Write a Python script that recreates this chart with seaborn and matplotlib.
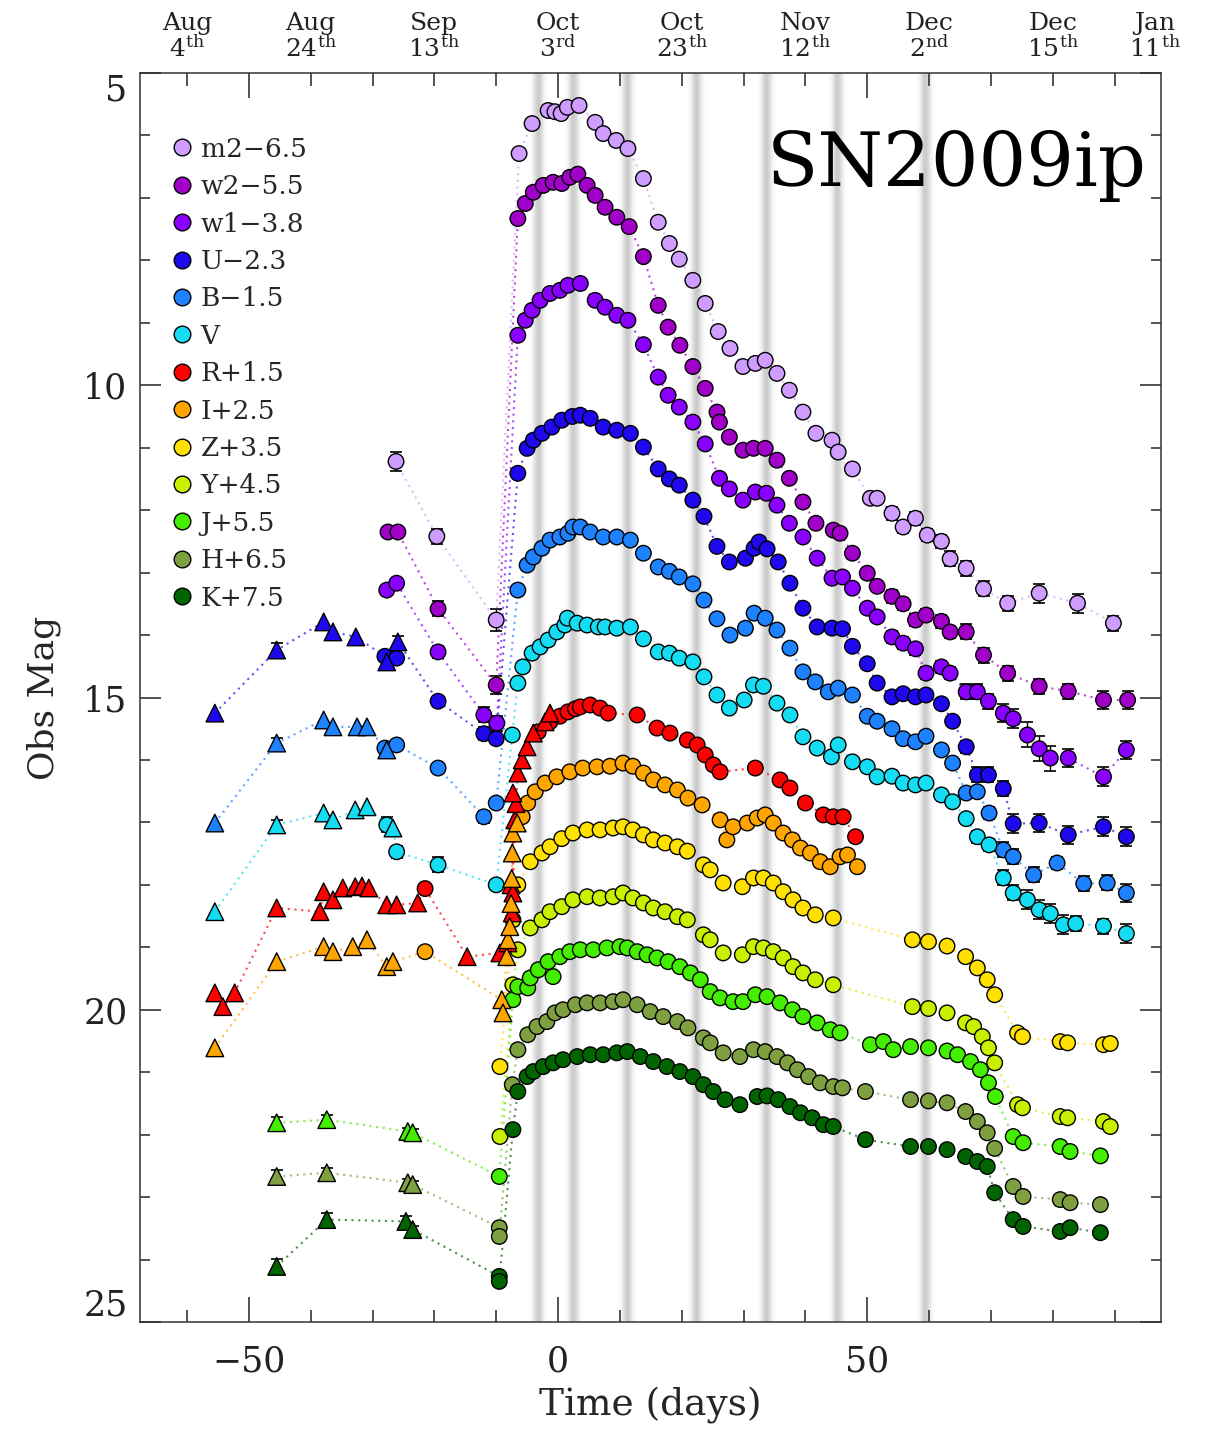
import matplotlib
matplotlib.use("Agg")
import matplotlib.pyplot as plt
from matplotlib.lines import Line2D
from matplotlib.ticker import MultipleLocator
import numpy as np
import pandas as pd
import seaborn as sns

# ------------------------------------------------------------------ data
bands = ["m2", "w2", "w1", "U", "B", "V", "R", "I", "Z", "Y", "J", "H", "K"]
labels = ["m2\u22126.5", "w2\u22125.5", "w1\u22123.8", "U\u22122.3", "B\u22121.5", "V",
          "R+1.5", "I+2.5", "Z+3.5", "Y+4.5", "J+5.5", "H+6.5", "K+7.5"]
colors = ["#CF9CFF", "#A000C8", "#8A00FF", "#1E08EE", "#1E82FF", "#14DCF2",
          "#FF0000", "#FFA500", "#FFE000", "#C8F000", "#44EE00", "#7FA040", "#006400"]

# gray vertical bands (days)
band_days = [-3.2, 2.4, 11.2, 22.3, 33.7, 45.1, 59.4]

# top date labels
top_days = [-60, -40, -20, 0, 20, 40, 60, 80, 96.5]
top_month = ["Aug", "Aug", "Sep", "Oct", "Oct", "Nov", "Dec", "Dec", "Jan"]
top_dayno = ["4", "24", "13", "3", "23", "12", "2", "15", "11"]
top_suffix = ["th", "th", "th", "rd", "th", "th", "nd", "th", "th"]

m2_day = [-26.2, -19.6, -10.0, -6.3, -4.2, -1.6, -0.5, 0.5, 1.5, 3.4,
          6.0, 7.3, 9.4, 11.3, 13.8, 16.2, 18.0, 19.6, 21.8, 23.8,
          25.9, 27.8, 29.9, 31.9, 33.5, 35.4, 37.4, 39.6, 41.7, 44.3,
          45.3, 47.6, 50.5, 51.6, 54.0, 55.8, 57.8, 59.7, 62.0, 63.4,
          66.0, 68.8, 72.7, 77.8, 84.0, 89.8]
m2_mag = [11.22, 12.42, 13.76, 6.29, 5.81, 5.60, 5.62, 5.65, 5.55, 5.52,
          5.79, 5.97, 6.08, 6.21, 6.69, 7.39, 7.73, 7.98, 8.32, 8.69,
          9.14, 9.41, 9.70, 9.65, 9.60, 9.81, 10.08, 10.43, 10.77, 10.88,
          11.07, 11.34, 11.81, 11.81, 12.05, 12.27, 12.13, 12.40, 12.50, 12.78,
          12.93, 13.26, 13.49, 13.33, 13.49, 13.81]
m2_err = [0.15, 0.12, 0.18, 0, 0, 0, 0, 0, 0, 0,
          0, 0, 0, 0, 0, 0, 0, 0, 0, 0,
          0, 0, 0, 0, 0, 0, 0, 0, 0, 0,
          0, 0, 0, 0, 0.10, 0.10, 0.10, 0.10, 0.10, 0.12,
          0.12, 0.12, 0.12, 0.15, 0.15, 0.12]

w2_day = [-27.5, -25.9, -19.4, -10.0, -6.5, -5.3, -4.0, -2.4, -0.8, 0.6,
          1.9, 3.2, 4.7, 6.0, 7.6, 9.5, 11.5, 13.8, 16.2, 17.8,
          19.7, 21.8, 23.8, 25.7, 26.1, 27.7, 29.9, 31.6, 33.5, 35.4,
          37.4, 39.6, 41.7, 44.5, 45.6, 47.6, 50.0, 51.6, 54.0, 55.8,
          57.8, 59.5, 62.0, 63.4, 66.0, 68.8, 72.7, 77.8, 82.5, 88.2,
          92.1]
w2_mag = [12.35, 12.35, 13.58, 14.80, 7.33, 7.09, 6.91, 6.80, 6.75, 6.77,
          6.67, 6.62, 6.80, 6.96, 7.15, 7.31, 7.46, 7.94, 8.72, 9.07,
          9.36, 9.70, 10.05, 10.43, 10.59, 10.83, 11.04, 11.01, 11.01, 11.20,
          11.49, 11.87, 12.21, 12.32, 12.37, 12.69, 13.01, 13.22, 13.38, 13.50,
          13.76, 13.68, 13.78, 13.95, 13.95, 14.32, 14.61, 14.82, 14.90, 15.04,
          15.04]
w2_err = [0, 0, 0.12, 0.15, 0, 0, 0, 0, 0, 0,
          0, 0, 0, 0, 0, 0, 0, 0, 0, 0,
          0, 0, 0, 0, 0, 0, 0, 0, 0, 0,
          0, 0, 0, 0, 0, 0, 0, 0, 0.10, 0.10,
          0.10, 0.10, 0.10, 0.10, 0.12, 0.12, 0.12, 0.12, 0.12, 0.15,
          0.15]

w1_day = [-27.7, -26.1, -19.4, -12.0, -9.9, -6.5, -5.3, -4.2, -2.9, -1.3,
          0.3, 1.6, 3.6, 6.0, 7.6, 9.5, 11.3, 13.8, 16.2, 17.8,
          19.6, 21.8, 23.8, 26.1, 27.7, 29.9, 31.9, 33.7, 35.4, 37.4,
          39.6, 41.9, 44.3, 46.0, 47.6, 50.0, 51.6, 54.0, 55.8, 57.8,
          59.5, 62.0, 63.4, 66.0, 67.8, 69.6, 72.0, 73.6, 75.9, 77.8,
          79.6, 82.5, 88.2, 91.9]
w1_mag = [13.28, 13.17, 14.27, 15.28, 15.41, 9.20, 8.96, 8.80, 8.64, 8.53,
          8.48, 8.40, 8.37, 8.64, 8.75, 8.88, 8.96, 9.35, 9.87, 10.16,
          10.35, 10.59, 10.94, 11.49, 11.66, 11.84, 11.71, 11.73, 11.92, 12.21,
          12.43, 12.77, 13.09, 13.07, 13.25, 13.57, 13.71, 14.03, 14.13, 14.22,
          14.61, 14.51, 14.61, 14.91, 14.91, 15.06, 15.25, 15.34, 15.60, 15.82,
          15.97, 15.97, 16.27, 15.84]
w1_err = [0, 0, 0.10, 0.12, 0.12, 0, 0, 0, 0, 0,
          0, 0, 0, 0, 0, 0, 0, 0, 0, 0,
          0, 0, 0, 0, 0, 0, 0, 0, 0, 0,
          0, 0, 0, 0, 0, 0, 0, 0.10, 0.10, 0.10,
          0.10, 0.10, 0.10, 0.12, 0.12, 0.12, 0.15, 0.15, 0.20, 0.20,
          0.20, 0.15, 0.15, 0.15]

U_tri_day = [-55.5, -45.5, -37.9, -36.4, -32.7, -27.7, -25.9]
U_tri_mag = [15.25, 14.24, 13.79, 13.95, 14.03, 14.43, 14.11]
U_tri_err = [0, 0.12, 0, 0, 0, 0, 0.10]
U_day = [-28.0, -26.1, -19.4, -12.0, -10.0, -6.5, -5.0, -4.0, -2.6, -1.0,
         0.6, 2.3, 3.6, 5.2, 7.3, 9.5, 11.7, 13.8, 16.2, 18.0,
         19.6, 21.8, 23.6, 25.7, 27.7, 30.3, 31.7, 32.5, 33.8, 35.6,
         37.5, 39.6, 41.9, 44.3, 46.0, 47.6, 50.0, 51.6, 54.0, 55.8,
         57.8, 59.5, 62.0, 63.8, 66.0, 67.8, 69.6, 72.0, 73.6, 77.8,
         82.5, 88.2, 91.9]
U_mag = [14.34, 14.37, 15.06, 15.58, 15.66, 11.41, 11.01, 10.88, 10.77, 10.67,
         10.56, 10.50, 10.48, 10.53, 10.67, 10.72, 10.77, 10.99, 11.34, 11.50,
         11.60, 11.84, 12.10, 12.58, 12.83, 12.77, 12.61, 12.51, 12.62, 12.83,
         13.17, 13.57, 13.87, 13.89, 13.90, 14.18, 14.46, 14.77, 14.99, 14.94,
         14.99, 14.96, 15.10, 15.38, 15.79, 16.24, 16.24, 16.46, 17.02, 17.01,
         17.20, 17.07, 17.23]
U_err = [0, 0, 0, 0.10, 0, 0, 0, 0, 0, 0,
         0, 0, 0, 0, 0, 0, 0, 0, 0, 0,
         0, 0, 0, 0, 0, 0, 0, 0, 0, 0,
         0, 0, 0, 0, 0, 0, 0, 0, 0, 0,
         0, 0, 0, 0, 0.10, 0.12, 0.12, 0.12, 0.15, 0.15,
         0.15, 0.15, 0.15]

B_tri_day = [-55.5, -45.5, -37.9, -36.4, -32.5, -30.9, -27.7]
B_tri_mag = [17.01, 15.73, 15.36, 15.47, 15.47, 15.47, 15.84]
B_tri_err = [0, 0.08, 0, 0, 0, 0, 0]
B_day = [-28.0, -26.1, -19.4, -12.0, -10.0, -6.5, -5.0, -4.0, -2.6, -1.3,
         0.3, 1.6, 2.4, 3.6, 5.2, 7.3, 9.5, 11.7, 13.8, 16.2,
         18.0, 19.6, 21.8, 23.6, 25.7, 27.8, 30.3, 31.7, 33.5, 35.4,
         37.5, 39.6, 41.6, 43.7, 45.3, 47.6, 50.0, 51.6, 54.0, 55.8,
         57.8, 59.5, 62.0, 63.8, 66.0, 67.8, 69.7, 72.0, 73.6, 76.9,
         80.7, 85.0, 88.8, 91.9]
B_mag = [15.81, 15.76, 16.13, 16.91, 16.69, 13.28, 12.88, 12.75, 12.61, 12.48,
         12.43, 12.37, 12.27, 12.27, 12.35, 12.43, 12.43, 12.48, 12.69, 12.91,
         12.98, 13.07, 13.18, 13.44, 13.74, 14.00, 13.89, 13.65, 13.73, 13.92,
         14.21, 14.59, 14.75, 14.91, 14.85, 14.96, 15.30, 15.38, 15.50, 15.66,
         15.71, 15.62, 15.84, 16.05, 16.53, 16.51, 16.85, 17.44, 17.55, 17.84,
         17.65, 17.98, 17.97, 18.13]
B_err = [0, 0, 0, 0.10, 0, 0, 0, 0, 0, 0,
         0, 0, 0, 0, 0, 0, 0, 0, 0, 0,
         0, 0, 0, 0, 0, 0, 0, 0, 0, 0,
         0, 0, 0, 0, 0, 0, 0, 0, 0, 0,
         0, 0, 0, 0, 0.08, 0.08, 0.10, 0.12, 0.12, 0.12,
         0.10, 0.12, 0.12, 0.15]

V_tri_day = [-55.5, -45.5, -37.9, -36.4, -32.8, -30.9, -26.7]
V_tri_mag = [18.43, 17.04, 16.85, 16.96, 16.80, 16.75, 17.09]
V_tri_err = [0, 0.08, 0, 0, 0, 0, 0]
V_day = [-27.7, -26.1, -19.4, -10.0, -7.4, -6.5, -5.7, -4.2, -2.9, -1.6,
         -0.2, 1.1, 1.5, 3.1, 4.7, 6.5, 7.6, 9.5, 11.7, 13.8,
         16.2, 18.0, 19.6, 21.8, 23.6, 25.7, 27.7, 30.1, 31.6, 33.2,
         35.4, 37.5, 39.6, 41.9, 44.2, 45.3, 47.6, 50.0, 51.6, 54.0,
         55.8, 57.8, 59.5, 62.0, 63.8, 66.0, 67.8, 69.7, 72.0, 73.6,
         75.9, 77.8, 79.6, 81.7, 83.7, 88.2, 91.9]
V_mag = [17.04, 17.47, 17.68, 18.00, 15.60, 14.77, 14.51, 14.29, 14.19, 14.08,
         13.95, 13.84, 13.73, 13.81, 13.84, 13.87, 13.87, 13.89, 13.87, 14.06,
         14.27, 14.29, 14.37, 14.43, 14.67, 14.96, 15.17, 15.04, 14.80, 14.82,
         15.09, 15.28, 15.63, 15.81, 15.95, 15.76, 16.03, 16.11, 16.27, 16.26,
         16.37, 16.40, 16.37, 16.56, 16.67, 16.94, 17.23, 17.36, 17.89, 18.13,
         18.24, 18.40, 18.46, 18.64, 18.62, 18.66, 18.78]
V_err = [0.12, 0.10, 0.12, 0, 0, 0, 0, 0, 0, 0,
         0, 0, 0, 0, 0, 0, 0, 0, 0, 0,
         0, 0, 0, 0, 0, 0, 0, 0, 0, 0,
         0, 0, 0, 0, 0, 0, 0, 0, 0, 0,
         0, 0, 0, 0, 0, 0, 0.10, 0.10, 0.12, 0.12,
         0.15, 0.15, 0.15, 0.15, 0.12, 0.12, 0.15]

R_tri_day = [-55.5, -54.2, -52.3, -45.5, -38.5, -37.9, -36.4, -34.8, -32.8, -31.7,
             -30.6, -27.7, -26.1, -22.7, -14.7, -9.4, -8.1, -7.6, -7.4, -7.3,
             -7.0, -6.8, -7.3, -6.5, -5.8, -5.0, -4.0, -2.1, -1.3]
R_tri_mag = [19.73, 19.95, 19.73, 18.37, 18.43, 18.11, 18.24, 18.05, 18.03, 18.02,
             18.05, 18.32, 18.32, 18.29, 19.15, 19.09, 18.93, 18.00, 18.45, 18.13,
             16.96, 16.70, 16.53, 16.21, 16.00, 15.79, 15.57, 15.39, 15.25]
R_day = [-21.5, -3.2, -1.3, 0.3, 1.6, 2.8, 3.6, 5.2, 6.8, 8.1,
         12.8, 16.0, 18.1, 20.9, 22.5, 23.8, 25.1, 26.2, 31.9, 35.9,
         37.5, 40.0, 42.9, 44.5, 46.1, 48.1]
R_mag = [18.06, 15.55, 15.39, 15.30, 15.23, 15.18, 15.15, 15.12, 15.17, 15.25,
         15.28, 15.49, 15.57, 15.68, 15.76, 15.92, 16.08, 16.19, 16.13, 16.32,
         16.45, 16.69, 16.88, 16.91, 16.91, 17.23]

I_tri_day = [-55.5, -45.5, -37.9, -36.4, -33.2, -30.9, -27.7, -26.7, -9.1, -8.9,
             -8.3, -8.1, -7.8, -7.6, -7.5, -7.4, -7.3, -6.6]
I_tri_mag = [20.61, 19.23, 18.99, 19.07, 18.99, 18.88, 19.31, 19.23, 19.84, 20.05,
             19.15, 18.88, 18.67, 18.30, 17.90, 17.49, 17.17, 17.01]
I_day = [-21.5, -5.8, -4.9, -3.7, -2.1, -0.2, 1.9, 4.0, 6.3, 8.4,
         10.5, 12.1, 13.8, 15.4, 17.3, 19.3, 21.0, 23.3, 26.2, 27.3,
         28.3, 30.6, 32.2, 33.5, 34.8, 36.4, 37.9, 39.2, 40.8, 42.4,
         44.0, 45.6, 46.8, 48.4]
I_mag = [19.07, 16.91, 16.69, 16.51, 16.37, 16.27, 16.19, 16.13, 16.11, 16.10,
         16.05, 16.10, 16.21, 16.32, 16.40, 16.48, 16.61, 16.72, 16.96, 17.28,
         17.07, 17.01, 16.93, 16.88, 17.01, 17.17, 17.28, 17.41, 17.49, 17.63,
         17.71, 17.55, 17.52, 17.71]

Z_day = [-9.4, -7.3, -6.5, -4.5, -2.6, -1.3, 0.6, 2.4, 4.7, 6.8,
         8.9, 10.5, 12.1, 13.8, 15.4, 17.3, 19.3, 20.9, 23.5, 24.6,
         26.7, 29.8, 31.6, 33.2, 34.8, 36.4, 38.0, 39.6, 41.6, 44.5,
         57.3, 59.9, 62.9, 65.9, 67.8, 69.4, 70.6, 74.3, 75.1, 81.2,
         82.4, 88.2, 89.3]
Z_mag = [20.91, 18.56, 18.00, 17.63, 17.49, 17.39, 17.26, 17.17, 17.12, 17.12,
         17.09, 17.07, 17.12, 17.20, 17.28, 17.33, 17.39, 17.46, 17.68, 17.76,
         17.97, 18.03, 17.89, 17.89, 17.97, 18.11, 18.24, 18.37, 18.48, 18.53,
         18.88, 18.91, 18.98, 19.15, 19.33, 19.52, 19.76, 20.37, 20.43, 20.51,
         20.53, 20.56, 20.54]

Y_day = [-9.4, -7.3, -6.5, -4.5, -2.6, -1.3, 0.6, 2.4, 4.7, 6.8,
         8.9, 10.5, 12.1, 13.8, 15.4, 17.3, 19.3, 20.9, 23.5, 24.6,
         26.7, 29.8, 31.6, 33.2, 34.8, 36.4, 38.0, 39.6, 41.6, 44.5,
         57.3, 59.9, 62.9, 65.9, 67.2, 68.6, 69.6, 70.6, 74.3, 75.1,
         81.2, 82.4, 88.2, 89.3]
Y_mag = [22.03, 19.60, 19.04, 18.69, 18.56, 18.43, 18.35, 18.24, 18.19, 18.21,
         18.19, 18.13, 18.21, 18.29, 18.37, 18.43, 18.51, 18.56, 18.80, 18.88,
         19.09, 19.12, 18.99, 19.01, 19.07, 19.17, 19.31, 19.41, 19.52, 19.60,
         19.95, 19.98, 20.05, 20.21, 20.27, 20.43, 20.61, 20.85, 21.52, 21.57,
         21.71, 21.73, 21.79, 21.87]

J_tri_day = [-45.5, -37.4, -24.3, -23.5]
J_tri_mag = [21.81, 21.76, 21.95, 21.97]
J_tri_err = [0.10, 0.08, 0.06, 0.06]
J_day = [-9.5, -7.3, -6.5, -4.9, -4.5, -3.2, -1.6, -0.8, 0.3, 1.9,
         3.6, 5.7, 7.9, 10.0, 11.2, 12.8, 14.4, 16.0, 17.8, 19.7,
         21.4, 23.0, 24.6, 26.2, 28.3, 29.9, 31.9, 33.8, 35.9, 37.9,
         39.6, 41.9, 44.0, 45.6, 50.5, 52.6, 54.2, 57.0, 59.9, 62.9,
         64.6, 66.7, 68.3, 69.6, 70.7, 73.6, 75.2, 81.2, 82.8, 87.7]
J_mag = [22.67, 19.84, 19.63, 19.65, 19.49, 19.36, 19.23, 19.47, 19.15, 19.07,
         19.04, 19.04, 19.01, 18.99, 19.01, 19.07, 19.12, 19.17, 19.23, 19.31,
         19.41, 19.52, 19.71, 19.81, 19.87, 19.87, 19.76, 19.79, 19.89, 20.00,
         20.11, 20.21, 20.32, 20.37, 20.56, 20.51, 20.64, 20.59, 20.61, 20.66,
         20.72, 20.83, 20.96, 21.17, 21.39, 22.03, 22.13, 22.19, 22.27, 22.34]

H_tri_day = [-45.5, -37.4, -24.3, -23.5]
H_tri_mag = [22.67, 22.61, 22.77, 22.80]
H_tri_err = [0.10, 0.08, 0.06, 0.06]
H_day = [-9.5, -9.5, -7.4, -6.5, -4.9, -3.4, -1.8, -0.5, 0.8, 2.8,
         4.7, 6.8, 8.9, 10.5, 12.8, 14.9, 17.0, 19.3, 21.0, 23.5,
         24.6, 26.7, 29.4, 31.6, 33.5, 35.4, 37.1, 38.7, 40.5, 42.4,
         44.5, 46.0, 49.7, 57.0, 59.9, 62.9, 65.9, 67.8, 69.4, 70.6,
         73.6, 75.2, 81.2, 82.8, 87.7]
H_mag = [23.49, 23.63, 21.20, 20.64, 20.40, 20.27, 20.19, 20.05, 20.00, 19.92,
         19.89, 19.89, 19.87, 19.84, 19.92, 20.03, 20.11, 20.19, 20.29, 20.45,
         20.53, 20.69, 20.75, 20.64, 20.67, 20.75, 20.85, 20.96, 21.07, 21.17,
         21.23, 21.25, 21.31, 21.44, 21.46, 21.49, 21.63, 21.79, 21.97, 22.22,
         22.83, 22.99, 23.04, 23.09, 23.12]

K_tri_day = [-45.5, -37.4, -24.6, -23.5]
K_tri_mag = [24.11, 23.36, 23.39, 23.52]
K_tri_err = [0.12, 0.10, 0.08, 0.06]
K_day = [-9.5, -9.5, -7.3, -6.5, -5.0, -4.0, -2.4, -0.8, 0.8, 3.1,
         5.2, 7.3, 9.5, 11.2, 13.3, 15.4, 17.6, 19.7, 21.8, 23.5,
         25.1, 27.0, 29.4, 32.2, 33.8, 35.6, 37.5, 39.2, 41.1, 42.9,
         44.5, 49.7, 57.0, 59.9, 62.9, 65.9, 67.8, 69.4, 70.6, 73.6,
         75.2, 81.2, 82.8, 87.7]
K_mag = [24.27, 24.35, 21.92, 21.31, 21.07, 20.99, 20.91, 20.85, 20.80, 20.75,
         20.72, 20.72, 20.69, 20.67, 20.75, 20.83, 20.91, 20.99, 21.07, 21.20,
         21.31, 21.44, 21.52, 21.39, 21.38, 21.44, 21.55, 21.65, 21.73, 21.84,
         21.87, 22.08, 22.19, 22.19, 22.24, 22.35, 22.43, 22.51, 22.93, 23.36,
         23.47, 23.55, 23.49, 23.57]

circles = {
    "m2": (m2_day, m2_mag, m2_err), "w2": (w2_day, w2_mag, w2_err),
    "w1": (w1_day, w1_mag, w1_err), "U": (U_day, U_mag, U_err),
    "B": (B_day, B_mag, B_err), "V": (V_day, V_mag, V_err),
    "R": (R_day, R_mag, None), "I": (I_day, I_mag, None),
    "Z": (Z_day, Z_mag, None), "Y": (Y_day, Y_mag, None),
    "J": (J_day, J_mag, None), "H": (H_day, H_mag, None),
    "K": (K_day, K_mag, None),
}
triangles = {
    "U": (U_tri_day, U_tri_mag, U_tri_err), "B": (B_tri_day, B_tri_mag, B_tri_err),
    "V": (V_tri_day, V_tri_mag, V_tri_err), "R": (R_tri_day, R_tri_mag, None),
    "I": (I_tri_day, I_tri_mag, None), "J": (J_tri_day, J_tri_mag, J_tri_err),
    "H": (H_tri_day, H_tri_mag, H_tri_err), "K": (K_tri_day, K_tri_mag, K_tri_err),
}

# ------------------------------------------------------------------ frame
rows = []
for kind, table in (("circle", circles), ("tri", triangles)):
    for b, (d, m, e) in table.items():
        if e is None:
            e = [0.0] * len(d)
        for dd, mm, ee in zip(d, m, e):
            rows.append({"band": b, "day": dd, "mag": mm, "err": ee, "kind": kind})
df = pd.DataFrame(rows)
df["band"] = pd.Categorical(df["band"], categories=bands, ordered=True)
df = df.sort_values(["band"], kind="stable")
pal = dict(zip(bands, colors))

# ------------------------------------------------------------------ style
sns.set_style("ticks")
plt.rcParams["font.family"] = ["DejaVu Serif"]
plt.rcParams["mathtext.fontset"] = "dejavuserif"
plt.rcParams["axes.linewidth"] = 1.1

fig = plt.figure(figsize=(12.16, 14.30), dpi=100)
ax = fig.add_axes([140 / 1216, 1 - 1322 / 1430, 1021 / 1216, 1249 / 1430])

# gray bands with soft gaussian edges
prof_x = np.linspace(-1.8, 1.8, 90)
prof_a = 0.42 * np.exp(-0.5 * (prof_x / 0.55) ** 2)
rgba = np.zeros((1, prof_x.size, 4))
rgba[..., :3] = 0.52
rgba[0, :, 3] = prof_a
for c in band_days:
    ax.imshow(rgba, extent=[c - 1.8, c + 1.8, 25, 5], aspect="auto",
              interpolation="bilinear", zorder=0)

# dotted connecting lines
for b in bands:
    sub = df[df["band"] == b].sort_values("day")
    sns.lineplot(data=sub, x="day", y="mag", estimator=None, sort=True,
                 color=pal[b], lw=1.5, linestyle=(0, (1, 2.2)), alpha=0.7,
                 ax=ax, legend=False, zorder=1.5)

# error bars
eb = df[df["err"] > 0]
ax.errorbar(eb["day"], eb["mag"], yerr=eb["err"], fmt="none", ecolor="black",
            elinewidth=1.0, capsize=4, capthick=1.2, zorder=3)

# markers
sns.scatterplot(data=df[df["kind"] == "circle"], x="day", y="mag", hue="band",
                hue_order=bands, palette=pal, marker="o", s=125,
                edgecolor="black", linewidth=1.0, legend=False, ax=ax, zorder=4)
sns.scatterplot(data=df[df["kind"] == "tri"], x="day", y="mag", hue="band",
                hue_order=bands, palette=pal, marker="^", s=160,
                edgecolor="black", linewidth=1.0, legend=False, ax=ax, zorder=5)

# axes
ax.set_xlim(-67.6, 97.5)
ax.set_ylim(25, 5)
ax.xaxis.set_major_locator(MultipleLocator(50))
ax.xaxis.set_minor_locator(MultipleLocator(10))
ax.yaxis.set_major_locator(MultipleLocator(5))
ax.yaxis.set_minor_locator(MultipleLocator(1))
ax.tick_params(axis="x", which="major", direction="in", length=18, width=1.1,
               top=True, bottom=True, labelsize=25, pad=16, colors="#222222")
ax.tick_params(axis="x", which="minor", direction="in", length=9, width=1.1,
               top=True, bottom=True)
ax.tick_params(axis="y", which="major", direction="in", length=15, width=1.1,
               left=True, right=True, labelsize=25, pad=9, colors="#222222")
ax.tick_params(axis="y", which="minor", direction="in", length=7, width=1.1,
               left=True, right=True)
for s in ax.spines.values():
    s.set_color("#333333")
ax.set_xlabel("Time (days)", fontsize=27, labelpad=6)
ax.set_ylabel("Obs Mag", fontsize=26, labelpad=16)

fig.canvas.draw()
for t in ax.get_yticklabels():
    if t.get_text() == "5":
        t.set_va("top")
    elif t.get_text() == "25":
        t.set_va("bottom")

# top date labels
for d, mo, dn, sf in zip(top_days, top_month, top_dayno, top_suffix):
    ax.text(d, 1.009, mo + "\n" + dn + r"$^{\mathrm{" + sf + "}}$",
            transform=ax.get_xaxis_transform(), ha="center", va="bottom",
            fontsize=18, linespacing=1.0, color="#222222")

# legend
handles = [Line2D([], [], ls="", marker="o", ms=12, mfc=c, mec="black", mew=1.0)
           for c in colors]
ax.legend(handles, labels, loc="upper left", bbox_to_anchor=(0.031, 0.949),
          frameon=False, fontsize=19, handlelength=0.8, handletextpad=0.3,
          labelspacing=0.47, borderpad=0, borderaxespad=0)

ax.text(0.986, 0.926, "SN2009ip", transform=ax.transAxes, ha="right",
        va="center", fontsize=54, color="black")

fig.savefig("out.png", dpi=100, facecolor="white")
